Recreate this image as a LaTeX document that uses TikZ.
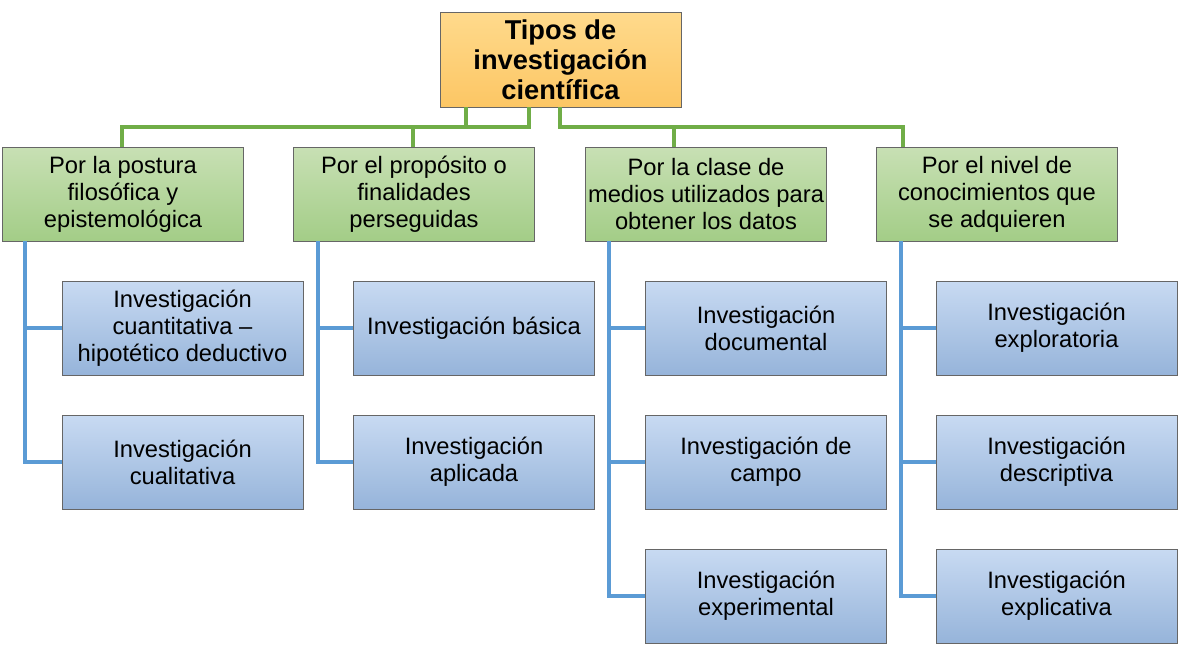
\documentclass[tikz,border=0pt]{standalone}
\usepackage{fontspec}
\setmainfont{Liberation Sans}
\begin{document}
\begin{tikzpicture}[x=0.02cm,y=-0.02cm,
  caja/.style={draw=gray!80!black, minimum width=4.82cm, minimum height=1.88cm, align=center, inner sep=1pt},
  tipo/.style={caja, top color={rgb,255:red,200;green,224;blue,180}, bottom color={rgb,255:red,163;green,205;blue,135}, font=\fontsize{13.5}{15.4}\selectfont},
  hoja/.style={caja, top color={rgb,255:red,200;green,218;blue,242}, bottom color={rgb,255:red,150;green,180;blue,218}, font=\fontsize{13.5}{15.4}\selectfont},
  verde/.style={draw={rgb,255:red,112;green,173;blue,71}, line width=2.2pt},
  azul/.style={draw={rgb,255:red,91;green,155;blue,213}, line width=2.2pt}]
\useasboundingbox (0,0) rectangle (1180,646);
% raiz
\node[caja, minimum width=4.82cm, minimum height=1.9cm, top color={rgb,255:red,255;green,218;blue,140}, bottom color={rgb,255:red,252;green,198;blue,100}, font=\bfseries\fontsize{15.5}{17}\selectfont] (raiz) at (560.5,59.5) {Tipos de\\investigación\\científica};
% tipos
\node[tipo] (t1) at (123,194) {Por la postura\\filosófica y\\epistemológica};
\node[tipo] (t2) at (414,194) {Por el propósito o\\finalidades\\perseguidas};
\node[tipo] (t3) at (706,194) {Por la clase de\\medios utilizados para\\obtener los datos};
\node[tipo] (t4) at (997,194) {Por el nivel de\\conocimientos que\\se adquieren};
% hojas
\node[hoja] (h11) at (182.5,328) {Investigación\\cuantitativa –\\hipotético deductivo};
\node[hoja] (h12) at (182.5,462) {Investigación\\cualitativa};
\node[hoja] (h21) at (474,328) {Investigación básica};
\node[hoja] (h22) at (474,462) {Investigación\\aplicada};
\node[hoja] (h31) at (766,328) {Investigación\\documental};
\node[hoja] (h32) at (766,462) {Investigación de\\campo};
\node[hoja] (h33) at (766,596) {Investigación\\experimental};
\node[hoja] (h41) at (1056.5,328) {Investigación\\exploratoria};
\node[hoja] (h42) at (1056.5,462) {Investigación\\descriptiva};
\node[hoja] (h43) at (1056.5,596) {Investigación\\explicativa};
% conectores verdes
\draw[verde] (raiz.south -| 466,0) |- (122,127) -- (t1.north -| 122,0);
\draw[verde] (raiz.south -| 529,0) |- (413,127) -- (t2.north -| 413,0);
\draw[verde] (raiz.south -| 560,0) |- (903,127) -- (t4.north -| 903,0);
\draw[verde] (674,127) -- (t3.north -| 674,0);
% conectores azules
\draw[azul] (t1.south -| 25,0) |- (h12.west);
\draw[azul] (25,328) -- (h11.west);
\draw[azul] (t2.south -| 318,0) |- (h22.west);
\draw[azul] (318,328) -- (h21.west);
\draw[azul] (t3.south -| 609,0) |- (h33.west);
\draw[azul] (609,328) -- (h31.west);
\draw[azul] (609,462) -- (h32.west);
\draw[azul] (t4.south -| 901,0) |- (h43.west);
\draw[azul] (901,328) -- (h41.west);
\draw[azul] (901,462) -- (h42.west);
\end{tikzpicture}
\end{document}
